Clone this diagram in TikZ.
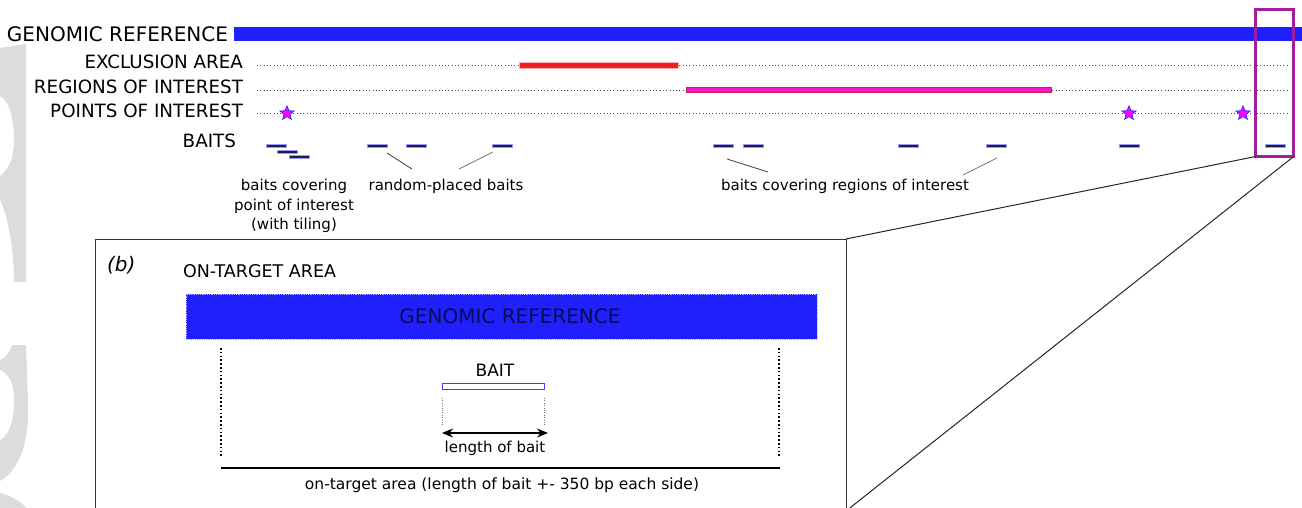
\documentclass[tikz,border=0pt]{standalone}
\usepackage{fontspec}
\setmainfont{DejaVu Sans}
\usetikzlibrary{shapes.geometric,arrows.meta}

\definecolor{refblue}{RGB}{32,32,255}
\definecolor{exclred}{RGB}{238,30,34}
\definecolor{roipink}{RGB}{255,16,200}
\definecolor{roiedge}{RGB}{190,40,80}
\definecolor{starfill}{RGB}{255,0,255}
\definecolor{baitnavy}{RGB}{30,30,62}
\definecolor{zoompurple}{RGB}{162,30,158}
\definecolor{boxtext}{RGB}{12,12,80}
\definecolor{markgray}{RGB}{220,220,220}

\newcommand\tsize[1]{\fontsize{#1}{#1}\selectfont}

\begin{document}
\begin{tikzpicture}[x=1pt,y=-1pt,
  txt/.style={inner sep=0pt,outer sep=0pt,text=black},
  toplabel/.style={txt,anchor=base east,font=\tsize{18.3}},
  guide/.style={draw=black!70,line width=0.9pt,dash pattern=on 0.9pt off 2.4pt},
  baitbar/.style={rectangle,inner sep=0pt,outer sep=0pt,minimum width=20pt,
    minimum height=3pt,fill=baitnavy,draw=refblue!45,line width=0.5pt},
  poi/.style={star,star points=5,star point ratio=2.3,minimum size=15pt,
    inner sep=0pt,fill=starfill,draw=refblue,line width=0.6pt},
  pointer/.style={draw=black!75,line width=0.8pt},
  smalltxt/.style={txt,anchor=base,font=\tsize{15}},
  panelline/.style={draw=black!80,line width=1pt},
  zoomline/.style={draw=black!85,line width=1pt},
  marks/.style={draw=black,line width=1.6pt,dash pattern=on 1.6pt off 2.2pt},
  finemarks/.style={draw=black!55,line width=0.8pt,dash pattern=on 1pt off 1.4pt}]

\useasboundingbox (0,0) rectangle (1302,508);
\clip (0,0) rectangle (1302,508);

% faint letter fragments along the left edge
\fill[markgray] (0,48) -- (26,44) -- (26,282) -- (14,282)
  .. controls (14,250) and (8,215) .. (0,200) -- (0,176)
  .. controls (8,170) and (14,160) .. (14,140)
  .. controls (14,115) and (8,100) .. (0,96) -- cycle;
\fill[markgray] (12,345) -- (26,345) -- (28,400)
  .. controls (30,440) and (20,470) .. (0,481) -- (0,440)
  .. controls (10,435) and (14,420) .. (14,400)
  .. controls (14,382) and (8,373) .. (0,370) -- (0,360)
  .. controls (6,358) and (10,352) .. (12,345) -- cycle;
\fill[markgray] (0,493) .. controls (12,496) and (22,502) .. (26,508) -- (0,508) -- cycle;

% ---------- track labels ----------
\node[txt,anchor=base east,font=\tsize{20}] (lgen) at (228,41.5) {GENOMIC REFERENCE};
\node[toplabel] (lexc) at (243,69) {EXCLUSION AREA};
\node[toplabel] (lroi) at (243,93.3) {REGIONS OF INTEREST};
\node[toplabel] (lpoi) at (243,117.3) {POINTS OF INTEREST};
\node[toplabel] (lbaits) at (236,147.5) {BAITS};

% ---------- tracks ----------
\fill[refblue] (234,27) rectangle (1302,41.5);
\draw[guide] (257,65.5) -- (1287,65.5);
\draw[guide] (257,90) -- (1287,90);
\draw[guide] (257,113.3) -- (1287,113.3);

\draw[fill=exclred,draw=exclred!35,line width=0.5pt] (519,62.5) rectangle (678,68);
\draw[fill=roipink,draw=roiedge,line width=1pt] (686,88) rectangle (1051,93);

\node[poi] (s1) at (287,113.3) {};
\node[poi] (s2) at (1129,113.3) {};
\node[poi] (s3) at (1243,113.3) {};

% ---------- baits ----------
\node[baitbar] (b1) at (276,146) {};
\node[baitbar] (b2) at (287,151.7) {};
\node[baitbar] (b3) at (299,157) {};
\node[baitbar] (b4) at (377,146) {};
\node[baitbar] (b5) at (416.5,146) {};
\node[baitbar] (b6) at (502,146) {};
\node[baitbar] (b7) at (723,146) {};
\node[baitbar] (b8) at (753.5,146) {};
\node[baitbar] (b9) at (908,146) {};
\node[baitbar] (b10) at (996,146) {};
\node[baitbar] (b11) at (1129,146) {};
\node[baitbar] (b12) at (1275,146) {};

% pointers from baits towards their captions
\coordinate (p1a) at (387,153);  \coordinate (p1b) at (412,169);
\coordinate (p2a) at (493,152);  \coordinate (p2b) at (459,169);
\coordinate (p3a) at (727,159);  \coordinate (p3b) at (768,172);
\coordinate (p4a) at (997,158);  \coordinate (p4b) at (963,175);
\draw[pointer] (p1a) -- (p1b);
\draw[pointer,draw=black!55] (p2a) -- (p2b);
\draw[pointer] (p3a) -- (p3b);
\draw[pointer,draw=black!55] (p4a) -- (p4b);

\node[smalltxt] (cpoi1) at (294,191) {baits covering};
\node[smalltxt] (cpoi2) at (294,210.3) {point of interest};
\node[smalltxt] (cpoi3) at (294,229.6) {(with tiling)};
\node[smalltxt] (crand) at (446,191) {random-placed baits};
\node[smalltxt] (croi) at (845,191) {baits covering regions of interest};

% ---------- zoom window and panel (b) ----------
\node[draw=zoompurple,line width=2.8pt,minimum width=38pt,minimum height=147pt,
  inner sep=0pt,outer sep=0pt,anchor=north west] (zoomwin) at (1255.7,9.5) {};
\node[inner sep=0pt,outer sep=0pt,minimum width=751pt,minimum height=272pt,
  anchor=north west] (panelb) at (95,239) {};
\draw[panelline] (panelb.south west) -- (panelb.north west)
  -- (panelb.north east) -- (panelb.south east);
\draw[zoomline] (zoomwin.south west) -- (panelb.north east);
\draw[zoomline] (zoomwin.south east) -- (panelb.south east);

\node[txt,anchor=base west,font=\tsize{20}\itshape] (plabel) at (107,271.5) {(b)};
\node[txt,anchor=base west,font=\tsize{17.5}] (ontitle) at (183,277) {ON-TARGET AREA};

\node[fill=refblue,draw=refblue!35,densely dotted,line width=0.8pt,
  minimum width=631pt,minimum height=45pt,inner sep=0pt,outer sep=0pt,
  anchor=north west] (gbox) at (186,294) {};
\node[txt,text=boxtext,font=\tsize{20}] (gboxtxt) at (510,316.5) {GENOMIC REFERENCE};

% on-target extent
\coordinate (ot1) at (221,348); \coordinate (ot2) at (221,456);
\coordinate (ot3) at (779,348); \coordinate (ot4) at (779,456);
\draw[marks] (ot1) -- (ot2);
\draw[marks] (ot3) -- (ot4);
\coordinate (oa) at (221,467.5); \coordinate (ob) at (780,467.5);
\draw[line width=2pt] (oa) -- (ob);
\node[txt,anchor=base,font=\tsize{15.5}] (ontxt) at (502,489)
  {on-target area (length of bait +- 350 bp each side)};

% single bait and its length
\node[txt,anchor=base,font=\tsize{17}] (baittxt) at (495,376) {BAIT};
\node[draw=refblue!85,fill=white,line width=1.3pt,minimum width=102pt,
  minimum height=6.5pt,inner sep=0pt,outer sep=0pt] (baitbox) at (493.5,386.5) {};
\coordinate (bl1) at (442.5,398); \coordinate (bl2) at (442.5,425);
\coordinate (br1) at (544.5,398); \coordinate (br2) at (544.5,425);
\draw[finemarks] (bl1) -- (bl2);
\draw[finemarks] (br1) -- (br2);
\coordinate (la) at (442,433); \coordinate (lb) at (548,433);
\draw[line width=1.4pt,{Stealth[length=11pt,width=9pt]}-{Stealth[length=11pt,width=9pt]}] (la) -- (lb);
\node[txt,anchor=base,font=\tsize{15}] (lentxt) at (495,452) {length of bait};

\end{tikzpicture}
\end{document}
